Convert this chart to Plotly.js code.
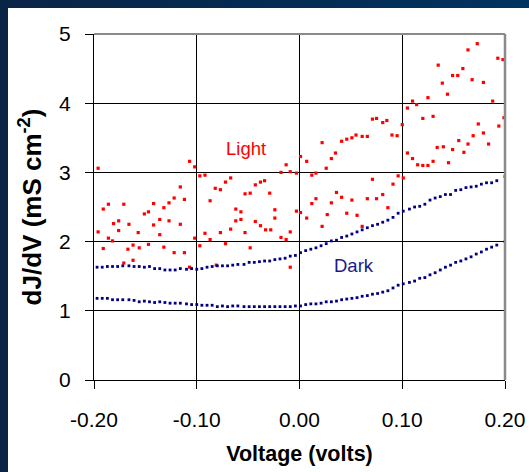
<!DOCTYPE html>
<html>
<head>
<meta charset="utf-8">
<script src="https://cdn.plot.ly/plotly-3.0.1.min.js"></script>
<style>
  html, body { margin:0; padding:0; width:529px; height:472px; overflow:hidden;
    background: linear-gradient(to right, #0a2446, #00335f); }
  #chart { position:absolute; left:8px; top:8px; width:521px; height:464px; background:#fff; }
</style>
</head>
<body>
<div id="chart"></div>
<script>
// Voltage (V) for the Dark scans
const darkVoltage = [-0.197,-0.192,-0.187,-0.182,-0.177,-0.172,-0.166,-0.161,-0.156,-0.151,-0.146,-0.141,-0.136,-0.131,-0.126,-0.121,-0.116,-0.110,-0.105,-0.100,-0.095,-0.090,-0.085,-0.080,-0.075,-0.070,-0.065,-0.060,-0.054,-0.049,-0.044,-0.039,-0.034,-0.029,-0.024,-0.019,-0.014,-0.009,-0.004,0.001,0.006,0.011,0.016,0.021,0.026,0.031,0.036,0.041,0.046,0.051,0.056,0.061,0.066,0.071,0.076,0.081,0.086,0.091,0.096,0.101,0.107,0.112,0.117,0.122,0.127,0.132,0.137,0.142,0.147,0.152,0.157,0.162,0.167,0.172,0.177,0.182,0.187,0.192,0.200];
// Dark, upper scan (mS cm-2)
const darkUpper = [1.63,1.63,1.64,1.64,1.64,1.65,1.65,1.64,1.64,1.63,1.64,1.61,1.61,1.59,1.59,1.59,1.61,1.60,1.61,1.60,1.61,1.63,1.64,1.65,1.65,1.65,1.66,1.67,1.67,1.70,1.70,1.71,1.72,1.72,1.74,1.75,1.76,1.79,1.80,1.84,1.87,1.89,1.91,1.94,1.97,2.01,2.02,2.06,2.08,2.11,2.14,2.17,2.20,2.23,2.25,2.28,2.31,2.35,2.41,2.44,2.47,2.50,2.51,2.54,2.60,2.63,2.65,2.68,2.68,2.74,2.75,2.78,2.79,2.80,2.83,2.85,2.85,2.88,2.94];
// Dark, lower scan (mS cm-2)
const darkLower = [1.18,1.18,1.18,1.16,1.16,1.16,1.16,1.15,1.13,1.14,1.13,1.12,1.13,1.12,1.11,1.11,1.11,1.10,1.09,1.09,1.08,1.08,1.08,1.06,1.07,1.06,1.07,1.07,1.06,1.06,1.06,1.06,1.06,1.06,1.06,1.06,1.06,1.06,1.07,1.07,1.09,1.10,1.10,1.11,1.13,1.13,1.14,1.16,1.17,1.18,1.19,1.21,1.22,1.24,1.25,1.27,1.29,1.33,1.37,1.39,1.41,1.43,1.47,1.48,1.52,1.55,1.59,1.63,1.66,1.70,1.72,1.75,1.78,1.82,1.85,1.89,1.92,1.95,2.00];
// Light scans (scattered points)
const lightVoltage = [-0.196,-0.107,-0.102,-0.097,-0.116,-0.112,-0.122,-0.127,-0.132,-0.142,-0.147,-0.151,-0.171,-0.186,-0.191,-0.176,-0.181,-0.176,-0.166,-0.196,-0.186,-0.182,-0.157,-0.142,-0.136,-0.127,-0.136,-0.116,-0.102,-0.097,-0.191,-0.167,-0.162,-0.156,-0.147,-0.162,-0.132,-0.122,-0.112,-0.171,-0.107,
  -0.013,-0.018,-0.009,-0.003,-0.092,-0.072,-0.067,-0.082,-0.077,-0.087,-0.053,-0.048,-0.043,-0.038,-0.034,-0.029,-0.062,-0.057,-0.024,-0.003,-0.062,-0.057,-0.043,-0.038,-0.033,-0.028,-0.024,-0.009,-0.092,-0.077,-0.067,-0.053,-0.087,-0.018,-0.013,-0.072,-0.048,-0.081,-0.009,
  0.001,0.007,0.022,0.026,0.031,0.035,0.041,0.046,0.051,0.055,0.061,0.066,0.071,0.075,0.081,0.085,0.090,0.095,0.100,0.012,0.016,0.071,0.096,0.101,0.091,0.012,0.016,0.031,0.036,0.041,0.051,0.066,0.075,0.081,0.086,0.001,0.007,0.027,0.046,0.056,0.022,0.061,
  0.173,0.164,0.193,0.198,0.135,0.159,0.149,0.154,0.139,0.168,0.179,0.144,0.125,0.110,0.188,0.105,0.114,0.120,0.130,0.174,0.199,0.194,0.169,0.179,0.155,0.164,0.184,0.134,0.140,0.149,0.160,0.105,0.110,0.115,0.120,0.125,0.130,0.145];
const lightConductance = [3.06,3.16,3.08,2.95,2.79,2.61,2.63,2.56,2.49,2.55,2.43,2.40,2.54,2.54,2.47,2.30,2.26,2.16,2.25,2.14,2.05,2.01,2.13,2.24,2.32,2.30,2.10,2.25,2.05,1.94,1.90,1.89,1.95,1.91,1.96,1.73,1.92,1.84,1.84,1.69,1.63,
  3.11,3.00,3.01,2.99,2.96,2.86,2.92,2.77,2.75,2.59,2.69,2.70,2.82,2.86,2.88,2.70,2.47,2.43,2.46,2.44,2.30,2.32,2.29,2.23,2.17,2.17,2.34,2.14,2.12,2.13,2.18,2.13,2.03,2.06,2.03,1.97,1.91,1.66,1.63,
  3.23,3.16,3.43,3.06,3.20,3.28,3.45,3.48,3.50,3.54,3.52,3.52,3.77,3.78,3.72,3.75,3.54,3.53,3.69,2.96,2.99,2.90,2.95,2.92,2.83,2.55,2.62,2.56,2.71,2.64,2.60,2.62,2.62,2.68,2.49,2.42,2.34,2.39,2.41,2.38,2.22,2.22,
  4.86,4.77,4.65,4.63,4.55,4.50,4.40,4.40,4.29,4.34,4.30,4.13,4.08,4.03,4.03,3.93,3.98,3.78,3.81,3.70,3.79,3.67,3.53,3.57,3.46,3.41,3.41,3.36,3.37,3.33,3.29,3.28,3.20,3.11,3.10,3.10,3.16,3.14];
const xTickVals = [-0.2,-0.1,0,0.1,0.2];
const xTickText = ['-0.20','-0.10','0.00','0.10','0.20'];
const yTickVals = [0,1,2,3,4,5];

const FONT = 'Arial, "Liberation Sans", sans-serif';

const traces = [
  {x: lightVoltage, y: lightConductance, type:'scatter', mode:'markers', name:'Light',
   marker:{symbol:'square', size:3.2, color:'#ff0000'}, hoverinfo:'skip'},
  {x: darkVoltage, y: darkUpper, type:'scatter', mode:'markers', name:'Dark',
   marker:{symbol:'square', size:2.8, color:'#000080'}, hoverinfo:'skip'},
  {x: darkVoltage, y: darkLower, type:'scatter', mode:'markers', name:'Dark',
   marker:{symbol:'square', size:2.8, color:'#000080'}, hoverinfo:'skip'}
];

const layout = {
  width:521, height:464,
  margin:{l:86, r:24, t:26, b:92},
  paper_bgcolor:'#ffffff', plot_bgcolor:'#ffffff',
  showlegend:false,
  font:{family:FONT, color:'#000'},
  xaxis:{range:[-0.2,0.2], tickvals:xTickVals, ticktext:xTickText,
    ticks:'outside', ticklen:8, tickcolor:'#000', tickwidth:1,
    showgrid:true, gridcolor:'#000', gridwidth:1,
    showline:true, linecolor:'#000', linewidth:1, zeroline:false,
    tickfont:{size:21, color:'#000', family:FONT}, ticklabelstandoff:13,
    title:{text:'Voltage (volts)', font:{size:21.5, color:'#000', family:FONT, weight:'bold'}, standoff:15},
    fixedrange:true},
  yaxis:{range:[0,5], tickvals:yTickVals,
    ticks:'outside', ticklen:8, tickcolor:'#000', tickwidth:1,
    showgrid:true, gridcolor:'#000', gridwidth:1,
    showline:true, linecolor:'#000', linewidth:1, zeroline:false,
    tickfont:{size:21, color:'#000', family:FONT}, ticklabelstandoff:10,
    title:{text:'dJ/dV (mS cm<sup>-2</sup>)', font:{size:26, color:'#000', family:FONT, weight:'bold'}, standoff:10},
    fixedrange:true},
  shapes:[
    {type:'line', xref:'paper', yref:'paper', x0:0, x1:1, y0:1, y1:1, line:{color:'#8a8a8a', width:2}},
    {type:'line', xref:'paper', yref:'paper', x0:1, x1:1, y0:0, y1:1, line:{color:'#8a8a8a', width:2.5}}
  ],
  annotations:[
    {x:-0.052, y:3.34, xref:'x', yref:'y', text:'Light', showarrow:false,
     font:{size:18.5, color:'#ff0000', family:FONT}},
    {x:0.053, y:1.66, xref:'x', yref:'y', text:'Dark', showarrow:false,
     font:{size:18.5, color:'#1a1a8c', family:FONT}}
  ]
};

Plotly.newPlot('chart', traces, layout, {staticPlot:true, displayModeBar:false});
</script>
</body>
</html>
